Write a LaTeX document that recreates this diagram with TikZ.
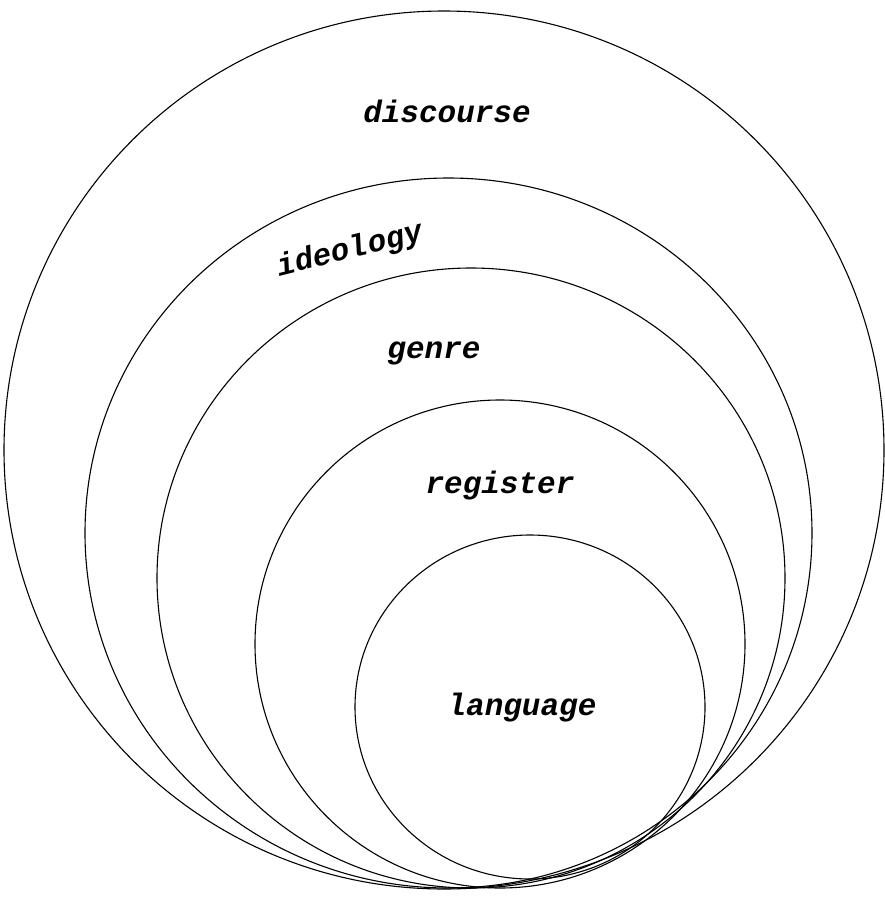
\documentclass[tikz,border=0pt]{standalone}
\usepackage{fontspec}
\setmonofont{Liberation Mono}
\begin{document}
\begin{tikzpicture}[x=1pt,y=-1pt,
  ring/.style={draw=black,line width=1.1pt},
  lbl/.style={font=\fontsize{31}{31}\selectfont\ttfamily\bfseries\itshape,anchor=base,inner sep=0pt}]
\useasboundingbox (0,0) rectangle (885,898);
\draw[ring] (444,450) ellipse [x radius=440,y radius=439];
\draw[ring] (448.5,533) ellipse [x radius=363.5,y radius=355];
\draw[ring] (471,578) ellipse [x radius=314,y radius=310];
\draw[ring] (500,644) ellipse [x radius=245,y radius=244];
\draw[ring] (530,707) ellipse [x radius=175,y radius=172];
\node[lbl] (discourse) at (447,122) {discourse};
\node[lbl,rotate=14] (ideology) at (352,258) {ideology};
\node[lbl] (genre) at (434,358) {genre};
\node[lbl] (register) at (500,493) {register};
\node[lbl] (language) at (522,715) {language};
\end{tikzpicture}
\end{document}
